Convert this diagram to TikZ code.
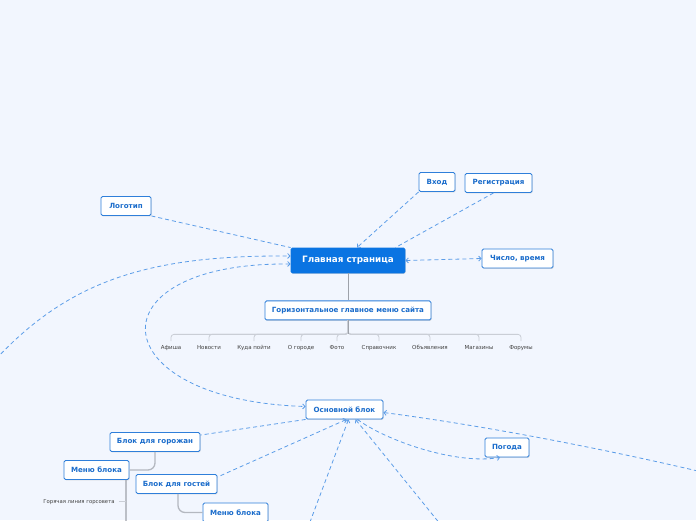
\documentclass[tikz,border=0pt]{standalone}
\usepackage{fontspec}
\setmainfont{DejaVu Sans}
\usepackage{tikz}
\usetikzlibrary{positioning, arrows.meta, shadows}

\definecolor{bgblue}{HTML}{F2F6FE}
\definecolor{boxblue}{HTML}{2F7FDA}
\definecolor{txtblue}{HTML}{1A6CCB}
\definecolor{mainblue}{HTML}{0A74E2}
\definecolor{linkblue}{HTML}{5C9DE8}
\definecolor{treegray}{HTML}{CACED6}
\definecolor{branchgray}{HTML}{B4B8C0}
\definecolor{stemgray}{HTML}{9EA2AA}

\begin{document}
\begin{tikzpicture}[x=1pt, y=-1pt, >={Straight Barb[length=2.4pt,width=5pt]},
    topic/.style={draw=boxblue, fill=white, line width=0.9pt, rounded corners=1.5pt, text=txtblue,
        font=\bfseries\fontsize{7.1}{8}\selectfont, minimum height=19pt, inner xsep=4pt,
        drop shadow={opacity=0.25, shadow xshift=0.7pt, shadow yshift=-0.9pt}},
    link/.style={draw=linkblue, line width=0.8pt, dash pattern=on 4pt off 3pt},
    tree/.style={draw=treegray, line width=0.8pt},
    item/.style={text=black!75, font=\fontsize{5.5}{6}\selectfont, inner xsep=1pt, inner ysep=4pt,
        text height=4.2pt, text depth=1.2pt}]

        % Background
        \fill[bgblue] (0,0) rectangle (696,520);
        \useasboundingbox (0,0) rectangle (696,520);

        % Nodes
        \node (home) [topic, fill=mainblue, draw=mainblue, text=white, minimum width=114pt, minimum height=25pt, font=\bfseries\fontsize{8.8}{10}\selectfont] at (348,260.5) {Главная страница};
        \node (logo) [topic, minimum width=50pt] at (126,206) {Логотип};
        \node (login) [topic, minimum width=36pt] at (437,182) {Вход};
        \node (signup) [topic, minimum width=67pt] at (498.5,183) {Регистрация};
        \node (datetime) [topic, minimum width=71pt] at (517.5,258.5) {Число, время};
        \node (hmenu) [topic, minimum width=166pt, below=27pt of home] {Горизонтальное главное меню сайта};

        \node (afisha) [item] at (171,348) {Афиша};
        \node (news) [item] at (209,348) {Новости};
        \node (whereto) [item] at (254,348) {Куда пойти};
        \node (city) [item] at (301,348) {О городе};
        \node (photo) [item] at (337,348) {Фото};
        \node (directory) [item] at (379,348) {Справочник};
        \node (ads) [item] at (430,348) {Объявления};
        \node (shops) [item] at (479,348) {Магазины};
        \node (forums) [item] at (521,348) {Форумы};

        \node (core) [topic, minimum width=77pt] at (344.5,409.5) {Основной блок};
        \node (weather) [topic, minimum width=44pt] at (507,447.5) {Погода};
        \node (citizens) [topic, minimum width=90pt] at (155,442) {Блок для горожан};
        \node (cmenu) [topic, minimum width=65pt] at (96.5,470) {Меню блока};
        \node (guests) [topic, minimum width=81pt] at (176.5,484) {Блок для гостей};
        \node (gmenu) [topic, minimum width=65pt] at (235.5,512.5) {Меню блока};
        \node (hotline) [item, font=\fontsize{5.3}{6}\selectfont] at (79,501.5) {Горячая линия горсовета};

        % Ends outside the page
        \coordinate (farleft) at (-4,359);
        \coordinate (farright) at (702,472);
        \coordinate (downleft) at (307,530);
        \coordinate (downright) at (445,530);
        \coordinate (cmenuend) at (126,530);

        % Tree lines
        \draw[tree, draw=stemgray] (home.south) -- (hmenu.north);
        \draw[tree, rounded corners=3pt] (hmenu.south) -- ++(0,14) -| (afisha.north);
        \draw[tree, rounded corners=3pt] (hmenu.south) -- ++(0,14) -| (news.north);
        \draw[tree, rounded corners=3pt] (hmenu.south) -- ++(0,14) -| (whereto.north);
        \draw[tree, rounded corners=3pt] (hmenu.south) -- ++(0,14) -| (city.north);
        \draw[tree, rounded corners=3pt] (hmenu.south) -- ++(0,14) -| (photo.north);
        \draw[tree, rounded corners=3pt] (hmenu.south) -- ++(0,14) -| (directory.north);
        \draw[tree, rounded corners=3pt] (hmenu.south) -- ++(0,14) -| (ads.north);
        \draw[tree, rounded corners=3pt] (hmenu.south) -- ++(0,14) -| (shops.north);
        \draw[tree, rounded corners=3pt] (hmenu.south) -- ++(0,14) -| (forums.north);
        \draw[tree, draw=stemgray] (hmenu.south) -- ++(0,14);

        \draw[tree, draw=branchgray, line width=1.3pt, rounded corners=7pt] (citizens.south) |- (cmenu.east);
        \draw[tree, draw=branchgray, line width=1.3pt, rounded corners=7pt] ([xshift=1.5pt]guests.south) |- (gmenu.west);
        \draw[tree, draw=stemgray, line width=1.3pt] ([xshift=-3.5pt]cmenu.south east) -- (cmenuend);
        \draw[tree] ([xshift=3pt]hotline.east) -- (hotline.east -| cmenuend);

        % Links
        \draw[link] (logo.south east) -- (home.north west);
        \draw[link, ->] (login.south west) -- ([xshift=9pt]home.north);
        \draw[link] ([xshift=-5pt]signup.south) -- ([xshift=-10pt]home.north east);
        \draw[link, <->] (home.east) -- (datetime.west);
        \draw[link, ->] (farleft) .. controls (70,280) and (150,255) .. ([yshift=4.5pt]home.west);
        \draw[link, <->] ([yshift=-3.5pt]home.west) .. controls (90,262) and (100,400) .. ([yshift=3pt]core.west);

        \draw[link] (core.south west) -- ([yshift=-3pt]citizens.north east);
        \draw[link, <-] ([xshift=2pt]core.south) -- ([yshift=-3pt]guests.north east);
        \draw[link, <-] ([xshift=4pt]core.south) -- (downleft);
        \draw[link, <-] ([xshift=11pt]core.south) -- (downright);
        \draw[link, ->] ([xshift=13pt]core.south) .. controls (385,440) and (455,465) .. ([xshift=-7pt]weather.south);
        \draw[link, <-] ([yshift=-3pt]core.east) .. controls (480,425) and (600,448) .. (farright);

    \end{tikzpicture}
\end{document}
